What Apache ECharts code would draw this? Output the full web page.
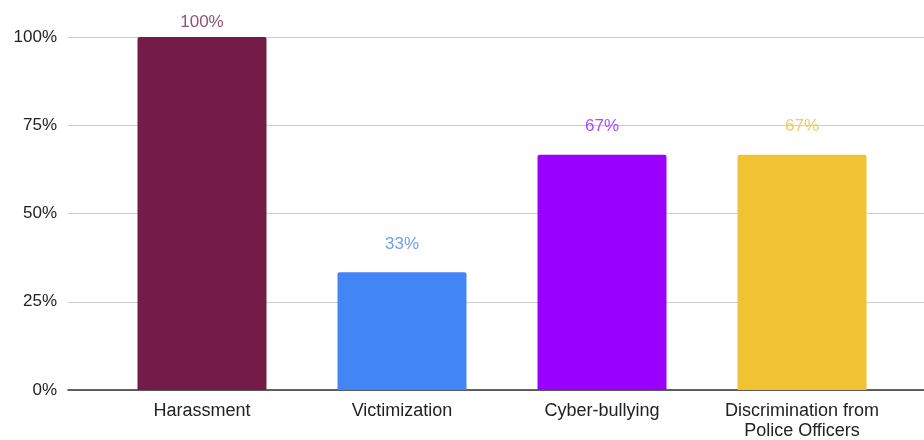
<!DOCTYPE html>
<html>
<head>
<meta charset="utf-8">
<script src="https://cdn.jsdelivr.net/npm/echarts@6/dist/echarts.min.js"></script>
<style>
  html, body { margin: 0; padding: 0; background: #fff; }
  #chart { width: 924px; height: 440px; }
</style>
</head>
<body>
<div id="chart"></div>
<script>
const categories = ['Harassment', 'Victimization', 'Cyber-bullying', 'Discrimination from\nPolice Officers']
const shares = [100, 33.33, 66.67, 66.67]
const barColors = ['#741b47', '#4285f4', '#9900ff', '#f1c232']
const labelColors = ['#94506f', '#6fa0f2', '#a94cff', '#f0cc66']
const yTicks = [0, 25, 50, 75, 100]

const font = 'Liberation Sans, Arial, sans-serif'

const chart = echarts.init(document.getElementById('chart'))

const option = {
  animation: false,
  grid: [
    // gridlines and y labels span the full width
    { left: 68, right: 0, top: 37, bottom: 50, outerBoundsMode: 'none' },
    // bars sit in a narrower band
    { left: 102, right: 22, top: 37, bottom: 50, outerBoundsMode: 'none' }
  ],
  xAxis: [
    {
      gridIndex: 0,
      type: 'value',
      min: 0,
      max: 1,
      axisLine: { show: true, onZero: false, lineStyle: { color: '#333', width: 1.5 } },
      axisTick: { show: false },
      axisLabel: { show: false },
      splitLine: { show: false }
    },
    {
      gridIndex: 1,
      type: 'category',
      data: categories,
      axisLine: { show: false },
      axisTick: { show: false },
      axisLabel: {
        color: '#222',
        fontFamily: font,
        fontSize: 18,
        lineHeight: 20,
        margin: 11,
        interval: 0
      }
    }
  ],
  yAxis: [
    {
      gridIndex: 0,
      type: 'value',
      min: yTicks[0],
      max: yTicks[yTicks.length - 1],
      interval: 25,
      axisLine: { show: false },
      axisTick: { show: false },
      axisLabel: {
        color: '#222',
        fontFamily: font,
        fontSize: 17,
        margin: 11,
        formatter: v => v + '%'
      },
      splitLine: { lineStyle: { color: '#cccccc' } }
    },
    {
      gridIndex: 1,
      type: 'value',
      min: 0,
      max: 100,
      show: false,
      splitLine: { show: false }
    }
  ],
  series: [
    {
      type: 'bar',
      xAxisIndex: 1,
      yAxisIndex: 1,
      barWidth: 129,
      data: shares.map((v, i) => ({
        value: v,
        itemStyle: { color: barColors[i], borderRadius: [2, 2, 0, 0] },
        label: {
          color: labelColors[i],
          distance: v >= 100 ? 6 : 20
        }
      })),
      label: {
        show: true,
        position: 'top',
        fontFamily: font,
        fontSize: 17,
        formatter: p => Math.round(p.value) + '%'
      }
    }
  ]
}

chart.setOption(option)
</script>
</body>
</html>
